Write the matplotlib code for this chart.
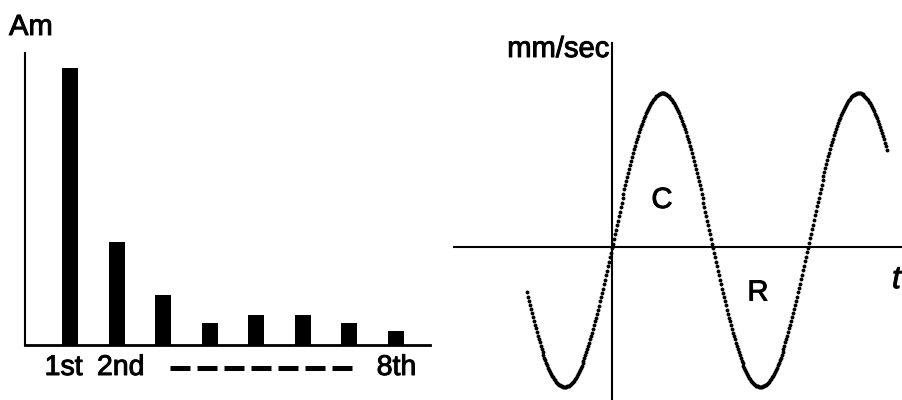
import numpy as np
import matplotlib
matplotlib.use("Agg")
import matplotlib.pyplot as plt
import matplotlib.patheffects as pe
import matplotlib.transforms as mtransforms

plt.rcParams["font.family"] = ["Liberation Sans", "DejaVu Sans"]
ink = [pe.withStroke(linewidth=0.7, foreground="black")]

# harmonic amplitudes (relative, 1st = 100)
harmonics = [1, 2, 3, 4, 5, 6, 7, 8]
amps = [100, 37, 18, 8, 11, 11, 8, 5]
tick_pos = [1, 2, 8]
tick_labels = ["1st", "2nd", "8th"]

# velocity wave (time in periods)
wave_amp = 1.0
wave_offset = 0.048
wave_phase = 0.008
t_start, t_end = -0.434, 1.403
n_samples = 370

fig = plt.figure(figsize=(9.02, 4.0), dpi=100)

# left: bar spectrum
ax1 = fig.add_axes([25 / 902, 55 / 400, 405 / 902, 292 / 400])
ax1.bar(harmonics, amps, width=0.344, color="black")
ax1.set_xlim(0.032, 8.74)
ax1.set_ylim(0, 105.4)
for s in ["top", "right"]:
    ax1.spines[s].set_visible(False)
ax1.spines["left"].set_linewidth(1.5)
ax1.spines["bottom"].set_linewidth(2)
ax1.set_xticks([])
ax1.set_yticks([])
trans = mtransforms.blended_transform_factory(ax1.transData, ax1.transAxes)
label_shift = [-0.14, 0.09, 0.02]
for pos, lab, dx in zip(tick_pos, tick_labels, label_shift):
    ax1.text(pos + dx, -23 / 292, lab, transform=trans, fontsize=20.5,
             ha="center", va="center", path_effects=ink)
ax1.plot([(170 - 25) / 405, (352 - 25) / 405], [-23 / 292, -23 / 292],
         transform=ax1.transAxes, clip_on=False, color="black", lw=3.6,
         linestyle=(0, (4.0, 1.4)), solid_capstyle="butt", dash_capstyle="butt")
fig.text(9 / 902, 1 - 27 / 400, "Am", fontsize=21, va="center", ha="left",
         path_effects=ink)

# right: velocity wave
ax2 = fig.add_axes([454 / 902, 0, 448 / 902, 357 / 400])
t = np.linspace(t_start, t_end, n_samples)
v = wave_amp * np.sin(2 * np.pi * (t - wave_phase)) + wave_offset
ax2.plot(t, v, "o", color="black", markersize=2.8, markeredgewidth=0)
ax2.set_xlim(-0.806, 1.480)
ax2.set_ylim(-1.041, 1.388)
for s in ["top", "right"]:
    ax2.spines[s].set_visible(False)
ax2.spines["left"].set_position(("data", 0))
ax2.spines["bottom"].set_position(("data", 0))
ax2.spines["left"].set_linewidth(1.5)
ax2.spines["bottom"].set_linewidth(1.5)
ax2.set_xticks([])
ax2.set_yticks([])
ax2.text(0.255, 0.32, "C", fontsize=21, ha="center", va="center", path_effects=ink)
ax2.text(0.745, -0.31, "R", fontsize=21, ha="center", va="center", path_effects=ink)
fig.text(609 / 902, 1 - 49 / 400, "mm/sec", fontsize=21, ha="right", va="center",
         path_effects=ink)
fig.text(892 / 902, 1 - 280 / 400, "t", fontsize=23, style="italic", ha="left",
         va="center", path_effects=ink)

fig.savefig("out.png", dpi=100)
